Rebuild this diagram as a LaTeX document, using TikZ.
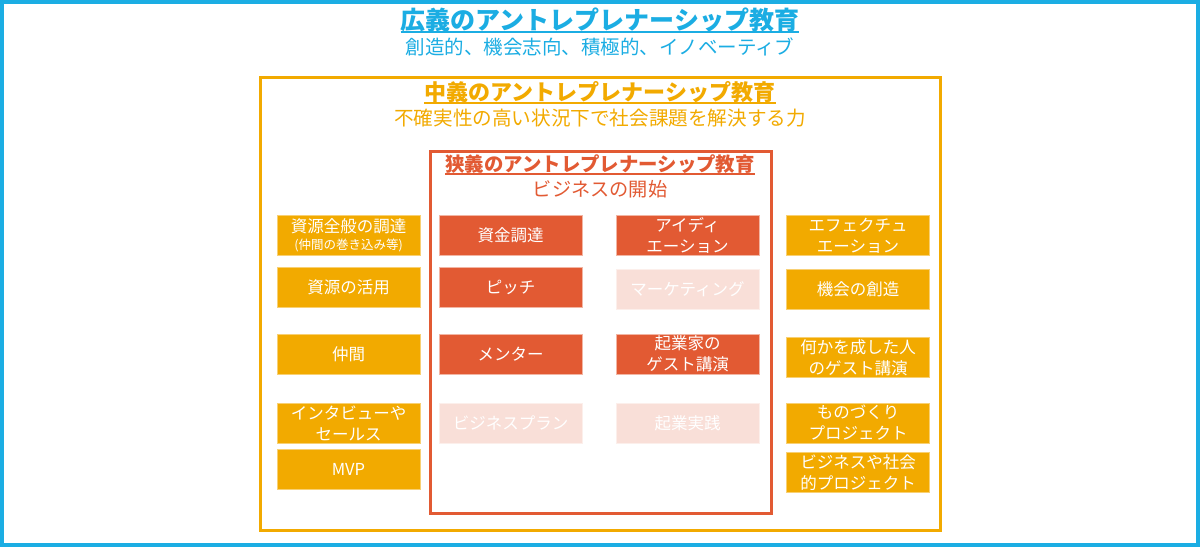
\documentclass[tikz,border=0pt]{standalone}
\usepackage{fontspec}
\setmainfont{Noto Sans CJK JP}
\definecolor{blueC}{HTML}{1BADE3}
\definecolor{orangeC}{HTML}{F2AA00}
\definecolor{redC}{HTML}{E25A33}
\definecolor{paleC}{HTML}{F9DFD8}
\tikzset{
  box/.style={rectangle, minimum width=143pt, minimum height=40pt, inner sep=0pt,
    align=center, text=white, line width=1pt, font=\fontsize{16.5}{21}\selectfont},
  obox/.style={box, fill=orangeC, draw=orangeC!55!white},
  rbox/.style={box, fill=redC, draw=redC!45!white},
  pbox/.style={box, fill=paleC, draw=paleC!50!white},
  ttl/.style={inner sep=0pt, font=\bfseries\fontsize{#1}{#1}\selectfont},
  sub/.style={inner sep=0pt, font=\fontsize{#1}{#1}\selectfont},
}
\begin{document}
\begin{tikzpicture}[x=1pt,y=-1pt]
\fill[white] (0,0) rectangle (1200,547);
\useasboundingbox (0,0) rectangle (1200,547);
% frames
\draw[blueC, line width=3.5pt] (2,2) rectangle (1198,545);
\draw[orangeC, line width=3pt] (260,77) rectangle (940,530);
\draw[redC, line width=3pt] (430,151) rectangle (771,513);
% titles
\node[ttl=25, text=blueC] (t1) at (600,20) {広義のアントレプレナーシップ教育};
\draw[blueC, line width=2pt] (t1.west |- 0,32) -- (t1.east |- 0,32);
\node[sub=19.5, text=blueC] (s1) at (600,47) {創造的、機会志向、積極的、イノベーティブ};
\node[ttl=22, text=orangeC] (t2) at (600,92) {中義のアントレプレナーシップ教育};
\draw[orangeC, line width=2pt] (t2.west |- 0,103) -- (t2.east |- 0,103);
\node[sub=19.6, text=orangeC] (s2) at (600,118) {不確実性の高い状況下で社会課題を解決する力};
\node[ttl=19.4, text=redC] (t3) at (600,164) {狭義のアントレプレナーシップ教育};
\draw[redC, line width=1.5pt] (t3.west |- 0,174) -- (t3.east |- 0,174);
\node[sub=19.2, text=redC] (s3) at (600,189) {ビジネスの開始};
% left column
\node[obox] (l1) at (348.5,235.5) {資源全般の調達\\[-4pt]{\fontsize{12.5}{14}\selectfont (仲間の巻き込み等)}};
\node[obox] (l2) at (348.5,287.5) {資源の活用};
\node[obox] (l3) at (348.5,354) {仲間};
\node[obox] (l4) at (348.5,423) {インタビューや\\セールス};
\node[obox] (l5) at (348.5,469) {MVP};
% middle-left column
\node[rbox] (m1) at (510.5,235.5) {資金調達};
\node[rbox] (m2) at (510.5,287) {ピッチ};
\node[rbox] (m3) at (510.5,354) {メンター};
\node[pbox] (m4) at (510.5,423) {ビジネスプラン};
% middle-right column
\node[rbox] (n1) at (687.5,235.5) {アイディ\\エーション};
\node[pbox] (n2) at (687.5,289) {マーケティング};
\node[rbox] (n3) at (687.5,354) {起業家の\\ゲスト講演};
\node[pbox] (n4) at (687.5,423) {起業実践};
% right column
\node[obox] (r1) at (858,235.5) {エフェクチュ\\エーション};
\node[obox] (r2) at (858,289) {機会の創造};
\node[obox] (r3) at (858,357.5) {何かを成した人\\のゲスト講演};
\node[obox] (r4) at (858,423) {ものづくり\\プロジェクト};
\node[obox] (r5) at (858,472.5) {ビジネスや社会\\的プロジェクト};
\end{tikzpicture}
\end{document}
